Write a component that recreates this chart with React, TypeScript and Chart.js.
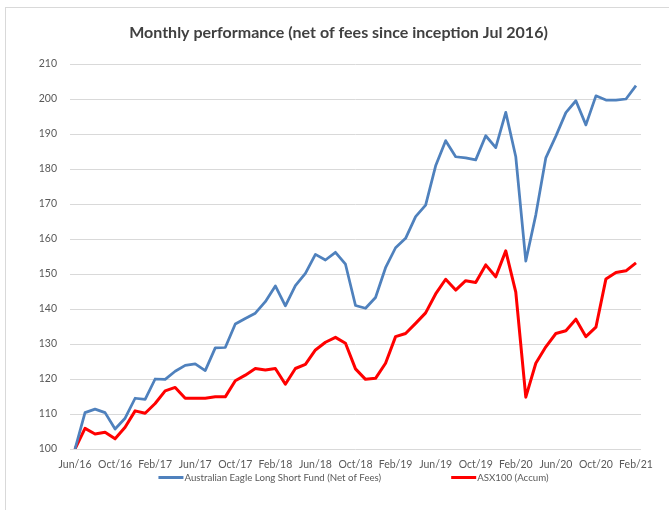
import React, { useEffect, useRef } from "react";
import { Chart, registerables } from "chart.js";

Chart.register(...registerables);

const months: string[] = [
  "Jun/16", "Jul/16", "Aug/16", "Sep/16", "Oct/16", "Nov/16", "Dec/16",
  "Jan/17", "Feb/17", "Mar/17", "Apr/17", "May/17", "Jun/17", "Jul/17", "Aug/17", "Sep/17", "Oct/17", "Nov/17", "Dec/17",
  "Jan/18", "Feb/18", "Mar/18", "Apr/18", "May/18", "Jun/18", "Jul/18", "Aug/18", "Sep/18", "Oct/18", "Nov/18", "Dec/18",
  "Jan/19", "Feb/19", "Mar/19", "Apr/19", "May/19", "Jun/19", "Jul/19", "Aug/19", "Sep/19", "Oct/19", "Nov/19", "Dec/19",
  "Jan/20", "Feb/20", "Mar/20", "Apr/20", "May/20", "Jun/20", "Jul/20", "Aug/20", "Sep/20", "Oct/20", "Nov/20", "Dec/20",
  "Jan/21", "Feb/21",
];

const fundValues: number[] = [
  100, 110.4, 111.4, 110.4, 105.7, 108.8, 114.5,
  114.2, 120.0, 119.9, 122.2, 123.9, 124.3, 122.4, 128.9, 129.0, 135.7, 137.3, 138.8,
  142.1, 146.6, 140.9, 146.7, 150.2, 155.6, 154.0, 156.2, 152.8, 141.0, 140.2, 143.3,
  151.8, 157.5, 160.2, 166.4, 169.7, 180.9, 188.1, 183.5, 183.2, 182.6, 189.5, 186.1,
  196.2, 183.5, 153.7, 166.9, 183.2, 189.4, 196.1, 199.5, 192.6, 200.9, 199.7, 199.7,
  200.0, 203.8,
];

const asxValues: number[] = [
  100, 105.9, 104.3, 104.8, 102.9, 106.2, 110.9,
  110.2, 113.0, 116.6, 117.6, 114.5, 114.5, 114.5, 114.9, 114.9, 119.5, 121.1, 123.0,
  122.6, 123.0, 118.5, 123.0, 124.2, 128.3, 130.5, 131.9, 130.2, 122.9, 119.9, 120.2,
  124.5, 132.1, 133.0, 135.9, 138.9, 144.3, 148.5, 145.4, 148.1, 147.6, 152.6, 149.2,
  156.6, 144.8, 114.8, 124.5, 129.2, 133.0, 133.8, 137.1, 132.1, 134.8, 148.6, 150.4,
  150.9, 153.2,
];

const seriesNames: string[] = [
  "Australian Eagle Long Short Fund (Net of Fees)",
  "ASX100 (Accum)",
];

const titleText = "Monthly performance (net of fees since inception Jul 2016)";
const yMin = 100;
const yMax = 210;
const yStep = 10;
const labelEvery = 4;

const FONT = "Lato, 'Liberation Sans', sans-serif";

const framePlugin = {
  id: "frame",
  beforeDraw(chart: any) {
    const ctx = chart.ctx;
    ctx.save();
    ctx.fillStyle = "#ffffff";
    ctx.fillRect(0, 0, chart.width, chart.height);
    ctx.strokeStyle = "#d9d9d9";
    ctx.lineWidth = 1;
    ctx.strokeRect(5.5, 7.5, chart.width + 20, chart.height + 20);
    ctx.restore();
  },
};

const legendPlugin = {
  id: "customLegend",
  afterDraw(chart: any) {
    const ctx = chart.ctx;
    const area = chart.chartArea;
    ctx.save();
    ctx.font = `9.7px ${FONT}`;
    ctx.textBaseline = "middle";
    const sample = 25;
    const gapText = 1;
    const gapItem = 70;
    const items = chart.data.datasets.map((d: any) => ({
      text: d.label as string,
      color: d.borderColor as string,
      w: ctx.measureText(d.label).width,
    }));
    let total = 0;
    items.forEach((it: any, i: number) => {
      total += sample + gapText + it.w + (i > 0 ? gapItem : 0);
    });
    let x = (area.left + area.right) / 2 - 2 - total / 2;
    const y = 477.5;
    items.forEach((it: any) => {
      ctx.strokeStyle = it.color;
      ctx.lineWidth = 3;
      ctx.beginPath();
      ctx.moveTo(x, y);
      ctx.lineTo(x + sample, y);
      ctx.stroke();
      ctx.fillStyle = "#595959";
      ctx.fillText(it.text, x + sample + gapText, y);
      x += sample + gapText + it.w + gapItem;
    });
    ctx.restore();
  },
};

export default function App() {
  const ref = useRef<HTMLCanvasElement | null>(null);

  useEffect(() => {
    if (!ref.current) return;
    const chart = new Chart(ref.current, {
      type: "line",
      data: {
        labels: months,
        datasets: [
          {
            label: seriesNames[0],
            data: fundValues,
            borderColor: "#4F81BD",
            backgroundColor: "#4F81BD",
            borderWidth: 2.75,
            pointRadius: 0,
            tension: 0,
            borderJoinStyle: "round",
          },
          {
            label: seriesNames[1],
            data: asxValues,
            borderColor: "#FF0000",
            backgroundColor: "#FF0000",
            borderWidth: 3,
            pointRadius: 0,
            tension: 0,
            borderJoinStyle: "round",
          },
        ],
      },
      options: {
        animation: false,
        responsive: false,
        devicePixelRatio: 1,
        layout: { padding: { left: 36, right: 28, top: 0, bottom: 39 } },
        plugins: {
          legend: { display: false },
          tooltip: { enabled: false },
          title: {
            display: true,
            text: titleText,
            color: "#404040",
            font: { family: FONT, size: 16, weight: "bold" },
            padding: { top: 23, bottom: 21.8 },
          },
        },
        scales: {
          x: {
            type: "category",
            offset: true,
            grid: { display: false, drawTicks: false },
            border: { display: false },
            ticks: {
              autoSkip: false,
              maxRotation: 0,
              minRotation: 0,
              padding: 9,
              color: "#595959",
              font: { family: FONT, size: 10.5 },
              callback: (_v: any, i: number) => (i % labelEvery === 0 ? months[i] : ""),
            },
            afterFit: (s: any) => {
              s.height = 22;
            },
          },
          y: {
            min: yMin,
            max: yMax,
            grid: { color: "#d9d9d9", lineWidth: 1, drawTicks: false },
            border: { display: false },
            ticks: {
              stepSize: yStep,
              padding: 13,
              color: "#595959",
              font: { family: FONT, size: 10.5 },
            },
            afterFit: (s: any) => {
              s.width = 34;
            },
          },
        },
      },
      plugins: [framePlugin, legendPlugin],
    });
    return () => chart.destroy();
  }, []);

  return (
    <div style={{ position: "fixed", left: 0, top: 0, width: 669, height: 510 }}>
      <canvas ref={ref} width={669} height={510} style={{ display: "block" }} />
    </div>
  );
}
